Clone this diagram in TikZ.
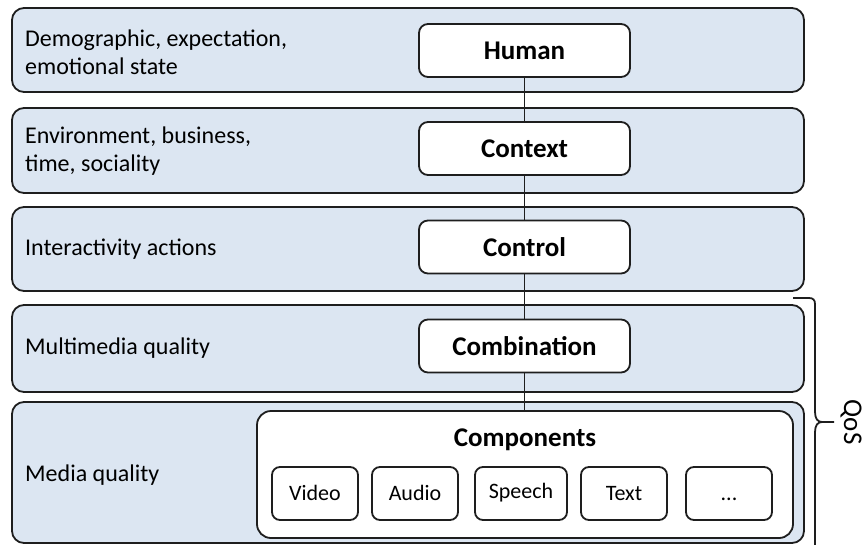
\documentclass[tikz,border=0pt]{standalone}
\usepackage{fontspec}
\setmainfont{Carlito}
\definecolor{bandblue}{RGB}{220,230,242}
\definecolor{edge}{RGB}{30,30,30}
\begin{document}
\begin{tikzpicture}[x=1pt,y=-1pt,
  band/.style={draw=edge, line width=1.8pt, fill=bandblue, rounded corners=12pt, inner sep=0pt},
  layer/.style={draw=edge, line width=1.8pt, fill=white, rounded corners=9pt,
    minimum width=211pt, minimum height=53pt, inner sep=0pt,
    font=\fontsize{27}{32}\selectfont\bfseries},
  part/.style={draw=edge, line width=1.8pt, fill=white, rounded corners=8pt,
    minimum width=86pt, minimum height=53pt, inner sep=0pt,
    text height=17pt, text depth=3pt,
    font=\fontsize{22}{26}\selectfont},
  note/.style={anchor=west, align=left, inner sep=0pt,
    font=\fontsize{24}{28}\selectfont},
  link/.style={draw=edge, line width=1.8pt}]
\useasboundingbox (0,0) rectangle (867,544);

% horizontal bands
\node[band, minimum width=792pt, minimum height=84pt]  (b1) at (408,50)    {};
\node[band, minimum width=792pt, minimum height=85pt]  (b2) at (408,150.5) {};
\node[band, minimum width=792pt, minimum height=84pt]  (b3) at (408,249)   {};
\node[band, minimum width=792pt, minimum height=87pt]  (b4) at (408,348.5) {};
\node[band, minimum width=792pt, minimum height=141pt] (b5) at (408,472.5) {};

% band descriptions
\node[note] (n1) at (25,52)  {Demographic, expectation,\\emotional state};
\node[note] (n2) at (25,151) {Environment, business,\\time, sociality};
\node[note] (n3) at (25,249) {Interactivity actions};
\node[note] (n4) at (25,348) {Multimedia quality};
\node[note] (n5) at (25,475) {Media quality};

% layer boxes
\node[layer] (human)   at (524.5,50.5)  {Human};
\node[layer] (context) at (524.5,148.5) {Context};
\node[layer] (control) at (524.5,247)   {Control};
\node[layer] (comb)    at (524.5,346)   {Combination};

% components container
\node[draw=edge, line width=1.8pt, fill=white, rounded corners=14pt,
      minimum width=536pt, minimum height=127pt, inner sep=0pt] (comps) at (525,474.5) {};
\node[font=\fontsize{27}{32}\selectfont\bfseries] (compt) at (525,439.5) {Components};
\node[part] (video)  at (315,493.5) {Video};
\node[part] (audio)  at (415,493.5) {Audio};
\node[part, minimum width=92pt, text height=15pt, text depth=5pt] (speech) at (521,493.5) {Speech};
\node[part] (text)   at (624,493.5) {Text};
\node[part] (more)   at (729,493.5) {...};

% connectors
\draw[link] (human) -- (context);
\draw[link] (context) -- (control);
\draw[link] (control) -- (comb);
\draw[link] (comb.south) -- (comb.south |- comps.north);

% QoS brace
\coordinate (tip) at (834,422);
\draw[link] (793,298) -- (809,298) .. controls (813,298) and (815,300) .. (815,304)
  -- (815,412) .. controls (815,419) and (818,422) .. (822,422) -- (tip);
\draw[link] (822,422) .. controls (818,422) and (815,425) .. (815,432) -- (815,552);
\node[rotate=-90, font=\fontsize{27}{32}\selectfont, anchor=south] (qos) at ([xshift=3pt]tip) {QoS};
\end{tikzpicture}
\end{document}
